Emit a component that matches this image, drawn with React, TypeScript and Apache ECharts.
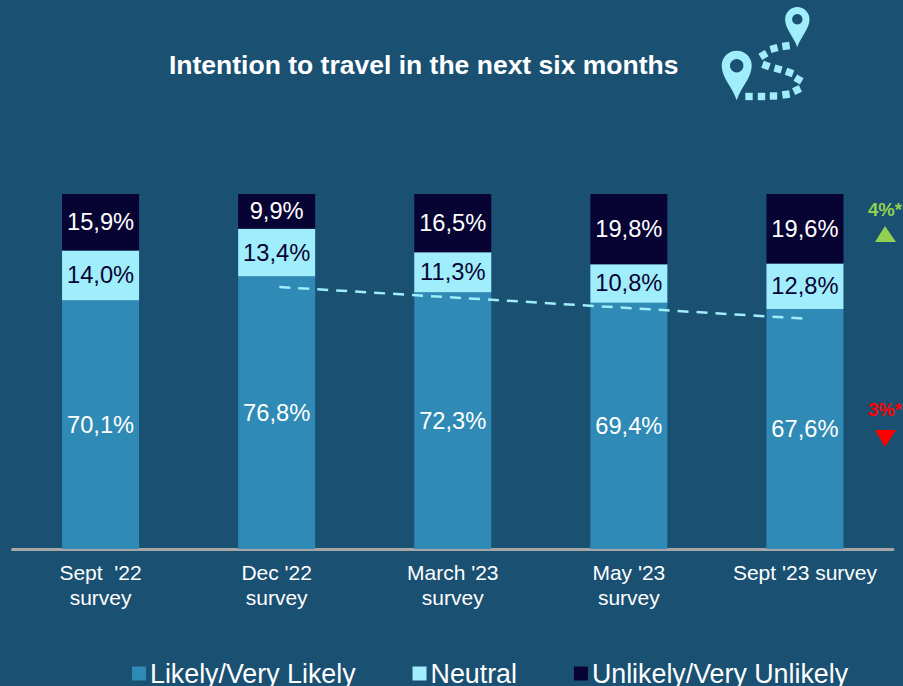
import React, { useEffect, useRef } from "react";
import * as echarts from "echarts";

const categories = ["Sept  '22\nsurvey", "Dec '22\nsurvey", "March '23\nsurvey", "May '23\nsurvey", "Sept '23 survey"];
const likely = [70.1, 76.8, 72.3, 69.4, 67.6];
const neutral = [14.0, 13.4, 11.3, 10.8, 12.8];
const unlikely = [15.9, 9.9, 16.5, 19.8, 19.6];
const trendStart = [1.515, 73.8];
const trendEnd = [4.53, 64.8];

const BG = "#1A5072";
const BLUE = "#2F8BB6";
const CYAN = "#A0EDFB";
const NAVY = "#070433";
const FONT = "'Liberation Sans', Arial, sans-serif";

const fmt = (p: any) => `${Number(p.value).toFixed(1).replace(".", ",")}%`;

const squares = [
  [749, 96.5, 0], [761.5, 96.5, 0], [773.5, 96, 0], [786, 94.5, -8],
  [797, 90, -25], [798.5, 79.5, 30], [789.5, 72.5, 20], [778, 69, 15],
  [766, 65.5, 20], [763.5, 55, -30], [774, 48.5, -15], [786, 46, -8],
];

export default function App() {
  const ref = useRef<HTMLDivElement>(null);
  useEffect(() => {
    const pin = echarts.graphic.extendPath(
      "M -1 0 A 1 1 0 0 1 1 0 C 1 0.8 0.3 1.4 0 2.3 C -0.3 1.4 -1 0.8 -1 0 Z",
      {}
    );
    echarts.graphic.registerShape("pin", pin);
    const chart = echarts.init(ref.current!, null, { renderer: "svg" });
    const bar = (name: string, data: number[], color: string, labelColor: string) => ({
      name,
      type: "bar",
      stack: "total",
      data,
      barWidth: 77,
      itemStyle: { color },
      label: { show: true, position: "inside", formatter: fmt, color: labelColor, fontSize: 23.7, fontFamily: FONT },
    });
    chart.setOption({
      animation: false,
      backgroundColor: BG,
      textStyle: { fontFamily: FONT },
      title: {
        text: "Intention to travel in the next six months",
        left: 164,
        top: 46,
        textStyle: { color: "#fff", fontSize: 26.5, fontWeight: "bold", fontFamily: FONT },
      },
      grid: { left: 12.5, right: 10, top: 194, bottom: 137 },
      xAxis: [
        {
          type: "category",
          data: categories,
          axisTick: { show: false },
          axisLine: { lineStyle: { color: "#A6A6A6", width: 3 } },
          axisLabel: { color: "#fff", fontSize: 21, fontFamily: FONT, lineHeight: 25, margin: 11, interval: 0 },
        },
        { type: "value", min: 0, max: 5, show: false },
      ],
      yAxis: { type: "value", min: 0, max: 100, show: false },
      legend: {
        data: ["Likely/Very Likely", "Neutral", "Unlikely/Very Unlikely"],
        left: 127,
        top: 655,
        itemWidth: 14,
        itemHeight: 14,
        itemGap: 57,
        icon: "rect",
        textStyle: { color: "#fff", fontSize: 26.8, fontFamily: FONT, padding: [0, 0, 0, -1] },
      },
      series: [
        bar("Likely/Very Likely", likely, BLUE, "#fff"),
        bar("Neutral", neutral, CYAN, NAVY),
        bar("Unlikely/Very Unlikely", unlikely, NAVY, "#fff"),
        {
          name: "Trend",
          type: "line",
          xAxisIndex: 1,
          data: [trendStart, trendEnd],
          symbol: "none",
          z: 5,
          lineStyle: { color: CYAN, width: 2.5, type: [11, 8] },
        },
      ],
      graphic: [
        { type: "text", x: 868, y: 200, style: { text: "4%*", fill: "#92D050", font: `bold 18.5px ${FONT}` } },
        { type: "polygon", shape: { points: [[885, 226], [875, 242], [896, 242]] }, style: { fill: "#92D050" } },
        { type: "text", x: 868, y: 400, style: { text: "3%*", fill: "#FF0000", font: `bold 18.5px ${FONT}` } },
        { type: "polygon", shape: { points: [[875, 430], [896, 430], [885, 447]] }, style: { fill: "#FF0000" } },
        { type: "pin", x: 736.7, y: 65.7, scaleX: 15, scaleY: 15, style: { fill: CYAN } },
        { type: "circle", shape: { cx: 736.7, cy: 65.7, r: 6.7 }, style: { fill: BG } },
        { type: "pin", x: 797.3, y: 19.3, scaleX: 12.2, scaleY: 12.2, style: { fill: CYAN } },
        { type: "circle", shape: { cx: 797.3, cy: 19.3, r: 5.2 }, style: { fill: BG } },
        ...squares.map(([x, y, r]) => ({
          type: "rect",
          x,
          y,
          rotation: (-r * Math.PI) / 180,
          shape: { x: -3.7, y: -3.7, width: 7.4, height: 7.4 },
          style: { fill: CYAN },
        })),
      ],
    });
    return () => chart.dispose();
  }, []);
  return <div ref={ref} style={{ position: "fixed", left: 0, top: 0, width: 903, height: 686 }} />;
}
